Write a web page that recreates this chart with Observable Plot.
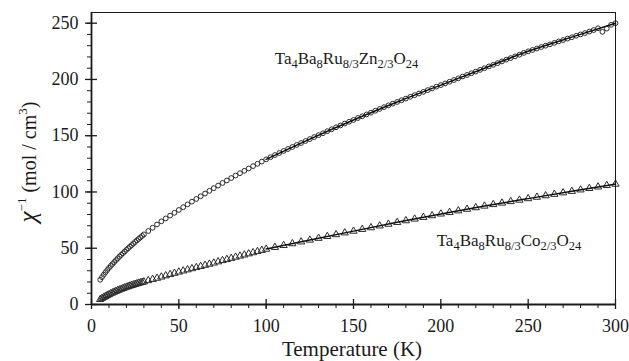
<!DOCTYPE html>
<html><head><meta charset="utf-8">
<script src="https://cdn.jsdelivr.net/npm/d3@7"></script>
<script src="https://cdn.jsdelivr.net/npm/@observablehq/plot@0.6"></script>
<style>body{margin:0;background:#fff} svg{display:block}</style>
</head><body><div id="chart"></div>
<script>
// Ta4Ba8Ru8/3Zn2/3O24 (circles)
const tempZn = [5,6,7,8,9,10,11,12,13,14,15,16,17,18,19,20,21,22,23,24,25,26,27,28,29,30,
  32.5,35,37.5,40,42.5,45,47.5,50,52.5,55,57.5,60,62.5,65,67.5,70,72.5,75,77.5,80,82.5,85,87.5,90,92.5,95,97.5,100,
  102.5,105,107.5,110,112.5,115,117.5,120,122.5,125,127.5,130,132.5,135,137.5,140,142.5,145,147.5,150,
  152.5,155,157.5,160,162.5,165,167.5,170,172.5,175,177.5,180,182.5,185,187.5,190,192.5,195,197.5,200,
  202.5,205,207.5,210,212.5,215,217.5,220,222.5,225,227.5,230,232.5,235,237.5,240,242.5,245,247.5,250,
  252.5,255,257.5,260,262.5,265,267.5,270,272.5,275,277.5,280,282.5,285,287.5,290,292.5,295,297.5,300];
const chiZn = [22,24.3,26.5,28.6,30.6,32.5,34.3,36,37.7,39.4,41,42.6,44.1,45.6,47.1,48.6,50,51.4,52.8,54.2,55.6,57,58.3,59.6,60.9,62.3,
  65.3,68.2,71.1,73.9,76.5,79,81.5,84,86.5,89,91.4,93.8,96.2,98.6,101,103.4,105.7,108,110.2,112.4,114.6,116.7,118.8,120.9,123,125,127,129,
  130.9,132.8,134.6,136.5,138.2,140,141.8,143.5,145.3,147,148.8,150.5,152.2,154,155.7,157.5,159.1,160.8,162.4,164,
  165.7,167.3,168.9,170.5,172.2,173.8,175.4,177,178.5,180,181.5,183,184.6,186,187.5,189,190.5,192,193.6,195,
  196.5,198,199.5,201,202.6,204,205.5,207,208.5,210,211.6,213,214.5,216,217.6,219,220.5,222,223.6,225,
  226.2,227.5,228.8,230,231.2,232.5,233.8,235,236.3,237.5,238.8,240,241.2,242.5,243.9,245.5,242.3,245.2,248.6,250];

// Ta4Ba8Ru8/3Co2/3O24 (triangles)
const tempCo = [5,6,7,8,9,10,11,12,13,14,15,16,17,18,19,20,21,22,23,24,25,26,27,28,29,30,
  32.5,35,37.5,40,42.5,45,47.5,50,52.5,55,57.5,60,62.5,65,67.5,70,72.5,75,77.5,80,82.5,85,87.5,90,92.5,95,97.5,100,
  105,110,115,120,125,130,135,140,145,150,155,160,165,170,175,180,185,190,195,200,
  205,210,215,220,225,230,235,240,245,250,255,260,265,270,275,280,285,290,295,300];
const chiCo = [4.5,5.5,6.4,7.3,8.1,8.9,9.7,10.4,11.1,11.8,12.5,13.1,13.7,14.3,14.9,15.5,16,16.5,17,17.5,18,18.5,19,19.4,19.8,20.2,
  21.3,22.4,23.4,24.5,25.6,26.7,27.8,28.9,29.9,30.9,31.9,32.9,33.9,34.9,35.9,36.9,38,39.1,40.1,41.1,42.1,43.1,44.1,45.1,46.1,47.1,48.2,49.2,
  50.8,52.5,54.1,55.7,57.3,58.9,60.5,62.1,63.7,65.2,66.8,68.3,69.9,71.4,73,74.5,76,77.5,79,80.5,
  81.9,83.3,84.7,86.1,87.5,88.9,90.2,91.5,92.8,94.1,95.4,96.7,98,99.3,100.6,101.9,103.2,104.5,105.8,107];

// fitted curves (solid lines)
const fitTempZn = [100,125,150,175,200,225,250,275,300];
const fitZn = [129,147,164,180,195,210,225,237.6,250];
const fitTempCo = [100,125,150,175,200,225,250,275,300];
const fitCo = [49.3,57.3,65.2,73,80.5,87.5,94.1,100.6,107];

const xTicks = [0,50,100,150,200,250,300];
const yTicks = [0,50,100,150,200,250];
const seriesLabels = ["Ta4Ba8Ru8/3Zn2/3O24", "Ta4Ba8Ru8/3Co2/3O24"];

const zn = tempZn.map((t,i)=>({T:t, v:chiZn[i]}));
const co = tempCo.map((t,i)=>({T:t, v:chiCo[i]}));
const fz = fitTempZn.map((t,i)=>({T:t, v:fitZn[i]}));
const fc = fitTempCo.map((t,i)=>({T:t, v:fitCo[i]}));
const minor = d3.range(0, 301, 10);
const minorY = d3.range(0, 251, 10);

const ink = "#1a1a1a";
const serif = "Liberation Serif";
const chart = Plot.plot({
  width: 629, height: 361,
  marginLeft: 91, marginRight: 14, marginTop: 12, marginBottom: 57,
  style: `font-family: 'Liberation Serif', serif; font-size: 18px; color: ${ink}; background: #fff;`,
  x: {domain: [0, 300]},
  y: {domain: [0, 259.5]},
  marks: [
    Plot.frame({stroke: ink, strokeWidth: 1}),
    Plot.dot(zn, {x: "T", y: "v", r: 2.4, stroke: "#2a2a2a", strokeWidth: 1, fill: "none"}),
    Plot.dot(co, {x: "T", y: "v", r: 2.7, symbol: "triangle", stroke: "#2a2a2a", strokeWidth: 1, fill: "none"}),
    Plot.line(fz, {x: "T", y: "v", curve: "natural", stroke: "#111", strokeWidth: 1.5}),
    Plot.line(fc, {x: "T", y: "v", curve: "natural", stroke: "#111", strokeWidth: 1.5}),
    Plot.ruleX([0], {stroke: ink, strokeWidth: 1.8}),
    Plot.ruleY([0], {stroke: ink, strokeWidth: 1.8}),
    Plot.axisX(minor, {tickSize: 4, text: null, label: null, stroke: ink}),
    Plot.axisX(xTicks, {tickSize: 10, dy: -5, text: null, label: null, stroke: ink, strokeWidth: 1.3}),
    Plot.axisX(xTicks, {tickSize: 5, tickPadding: 10, fontSize: 18, fontFamily: serif, label: null, tickFormat: d => String(d), stroke: "none", fill: ink}),
    Plot.axisY(minorY, {tickSize: 4, text: null, label: null, stroke: ink}),
    Plot.axisY(yTicks, {tickSize: 12, dx: 6, text: null, label: null, stroke: ink, strokeWidth: 1.3}),
    Plot.axisY(yTicks, {tickSize: 6, tickPadding: 7, fontSize: 18, fontFamily: serif, label: null, tickFormat: d => String(d), stroke: "none", fill: ink}),
    Plot.text([seriesLabels[0]], {x: 146, y: 219, text: d => d, fontSize: 17, fontFamily: serif, fill: ink, textAnchor: "middle"}),
    Plot.text([seriesLabels[1]], {x: 239, y: 57, text: d => d, fontSize: 17, fontFamily: serif, fill: ink, textAnchor: "middle"})
  ]
});
document.getElementById("chart").appendChild(chart);

// subscripts in series labels
const svg = d3.select(chart);
svg.selectAll("text").each(function() {
  const t = this.textContent;
  if (!seriesLabels.includes(t)) return;
  const el = d3.select(this);
  el.text(null);
  const parts = t.split(/(\d+(?:\/\d+)?)/).filter(s => s.length);
  let sub = false;
  parts.forEach(p => {
    const isSub = /^\d/.test(p);
    const ts = el.append("tspan").text(p);
    if (isSub && !sub) ts.attr("dy", "4").attr("font-size", 12.5);
    else if (isSub) ts.attr("font-size", 12.5);
    else if (!isSub && sub) ts.attr("dy", "-4");
    sub = isSub;
  });
});

// axis titles
svg.append("text").attr("x", 352).attr("y", 356).attr("text-anchor", "middle")
  .attr("font-family", serif).attr("font-size", 21).attr("fill", ink).text("Temperature (K)");
const yl = svg.append("text").attr("transform", "translate(36,162) rotate(-90)").attr("text-anchor", "middle")
  .attr("font-family", serif).attr("font-size", 20).attr("fill", ink);
yl.append("tspan").attr("font-style", "italic").attr("font-size", 25).text("χ");
yl.append("tspan").attr("font-size", 13).attr("dy", -10).text("−1");
yl.append("tspan").attr("dy", 10).text(" (mol / cm");
yl.append("tspan").attr("font-size", 13).attr("dy", -9).text("3");
yl.append("tspan").attr("dy", 9).text(")");
</script>
</body></html>
